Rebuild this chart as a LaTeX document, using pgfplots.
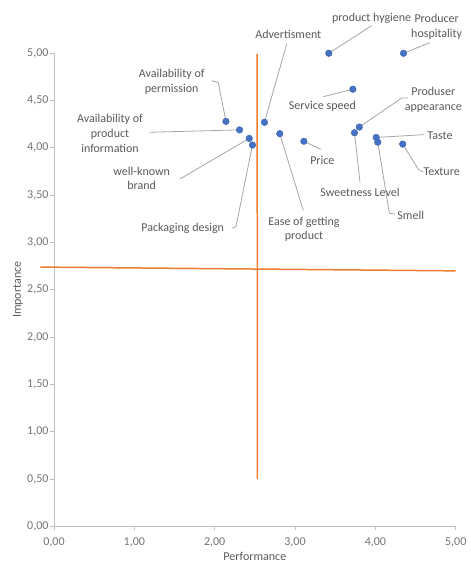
\documentclass[border=0pt]{standalone}
\usepackage{pgfplots}
\pgfplotsset{compat=1.18}
\usepackage{fontspec}
\setmainfont{Carlito}

\definecolor{txtgray}{HTML}{595959}
\definecolor{tickgray}{HTML}{737373}
\definecolor{axgray}{HTML}{BFBFBF}
\definecolor{leader}{HTML}{A6A6A6}
\definecolor{dotblue}{HTML}{4472C4}
\definecolor{quadorange}{HTML}{ED7D31}

\begin{document}
\begin{tikzpicture}[
    lbl/.style={font=\fontsize{12}{14.6}\selectfont, text=txtgray, align=center, inner sep=0pt},
    ldr/.style={draw=leader, line width=0.8pt}
]
\begin{axis}[
    scale only axis,
    width=401.7pt,
    height=473pt,
    xmin=0, xmax=5,
    ymin=0, ymax=5,
    clip=false,
    axis x line*=bottom,
    axis y line*=left,
    axis line style={axgray, line width=0.8pt},
    tick style={axgray, line width=0.8pt},
    tick align=outside,
    major tick length=4pt,
    xtick={0,1,2,3,4,5},
    ytick={0,0.5,1,1.5,2,2.5,3,3.5,4,4.5,5},
    ticklabel style={font=\fontsize{12}{14}\selectfont, text=tickgray},
    xticklabel style={yshift=-4pt},
    yticklabel style={xshift=2pt},
    /pgf/number format/.cd, fixed, fixed zerofill, precision=2, use comma,
        assume math mode=true,
    /pgfplots/.cd,
    xlabel={Performance},
    ylabel={Importance},
    label style={font=\fontsize{12}{14}\selectfont, text=txtgray},
    xlabel style={at={(axis description cs:0.5,-0.064)}, anchor=center},
    ylabel style={at={(axis description cs:-0.0896,0.5)}, anchor=center, rotate=0},
]
    % quadrant lines
    \addplot[draw=quadorange, line width=1.5pt, no markers] coordinates {(-0.17,2.74) (5.0,2.70)};
    \addplot[draw=quadorange, line width=1.5pt, no markers] coordinates {(2.531,0.5) (2.529,4.99)};

    % leader lines
    \draw[ldr] (axis cs:3.42,5.00) -- (axis cs:3.954,5.292);
    \draw[ldr] (axis cs:4.35,5.00) -- (axis cs:4.680,5.112);
    \draw[ldr] (axis cs:2.62,4.27) -- (axis cs:2.896,5.098);
    \draw[ldr] (axis cs:1.963,4.710) -- (axis cs:2.045,4.689) -- (axis cs:2.14,4.28);
    \draw[ldr] (axis cs:1.186,4.165) -- (axis cs:2.31,4.19);
    \draw[ldr] (axis cs:1.568,3.671) -- (axis cs:2.43,4.10);
    \draw[ldr] (axis cs:2.212,3.150) -- (axis cs:2.265,3.167) -- (axis cs:2.47,4.03);
    \draw[ldr] (axis cs:3.103,3.336) -- (axis cs:2.81,4.15);
    \draw[ldr] (axis cs:3.11,4.07) -- (axis cs:3.320,3.985);
    \draw[ldr] (axis cs:3.352,4.541) -- (axis cs:3.72,4.62);
    \draw[ldr] (axis cs:4.410,4.528) -- (axis cs:4.33,4.528) -- (axis cs:3.80,4.22);
    \draw[ldr] (axis cs:4.605,4.140) -- (axis cs:4.01,4.11);
    \draw[ldr] (axis cs:4.34,4.04) -- (axis cs:4.535,3.774) -- (axis cs:4.597,3.745);
    \draw[ldr] (axis cs:3.809,3.632) -- (axis cs:3.74,4.16);
    \draw[ldr] (axis cs:4.03,4.06) -- (axis cs:4.174,3.309) -- (axis cs:4.244,3.301);

    % data points
    \addplot[only marks, mark=*, mark size=3.3pt,
        mark options={fill=dotblue, draw=dotblue!85!black}] coordinates {
        (2.14,4.28) % Availability of permission
        (2.31,4.19) % Availability of product information
        (2.43,4.10) % well-known brand
        (2.47,4.03) % Packaging design
        (2.62,4.27) % Advertisment
        (2.81,4.15) % Ease of getting product
        (3.11,4.07) % Price
        (3.42,5.00) % product hygiene
        (4.35,5.00) % Producer hospitality
        (3.72,4.62) % Service speed
        (3.80,4.22) % Produser appearance
        (3.74,4.16) % Sweetness Level
        (4.01,4.11) % Taste
        (4.03,4.06) % Smell
        (4.34,4.04) % Texture
    };

    % labels
    \node[lbl] at (axis cs:3.954,5.364) {product hygiene};
    \node[lbl] at (axis cs:4.763,5.281) {Producer\\hospitality};
    \node[lbl] at (axis cs:2.916,5.197) {Advertisment};
    \node[lbl] at (axis cs:1.465,4.700) {Availability of\\permission};
    \node[lbl] at (axis cs:0.697,4.154) {Availability of\\product\\information};
    \node[lbl] at (axis cs:1.092,3.679) {well-known\\brand};
    \node[lbl] at (axis cs:1.602,3.150) {Packaging design};
    \node[lbl] at (axis cs:3.112,3.139) {Ease of getting\\product};
    \node[lbl] at (axis cs:3.340,3.872) {Price};
    \node[lbl] at (axis cs:3.340,4.436) {Service speed};
    \node[lbl] at (axis cs:4.721,4.506) {Produser\\appearance};
    \node[lbl] at (axis cs:4.804,4.129) {Taste};
    \node[lbl] at (axis cs:4.826,3.745) {Texture};
    \node[lbl] at (axis cs:3.809,3.531) {Sweetness Level};
    \node[lbl] at (axis cs:4.440,3.291) {Smell};

    \coordinate (BL) at (axis cs:-0.672,-0.409);
    \coordinate (TR) at (axis cs:5.178,5.563);
\end{axis}
\pgfresetboundingbox
\path (BL) rectangle (TR);
\end{tikzpicture}
\end{document}
